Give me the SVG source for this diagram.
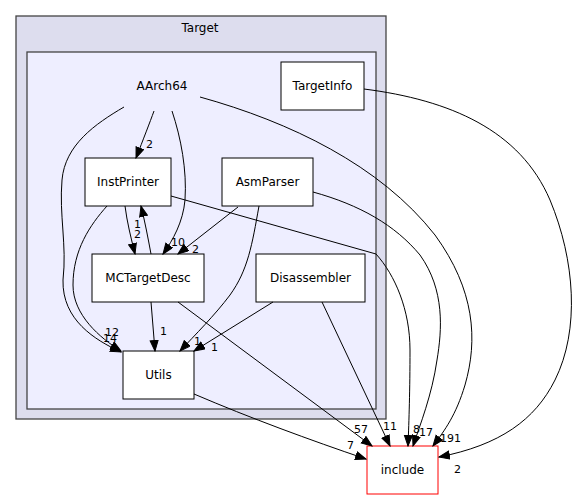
<svg xmlns="http://www.w3.org/2000/svg" width="577" height="500" viewBox="0 0 577 500">
<style>
text{font-family:"DejaVu Sans","Liberation Sans",sans-serif;fill:#000}
.nl{font-size:12px;text-anchor:middle}
.el{font-size:11px}
.node{fill:#fff;stroke:#000;stroke-width:1}
.edge{fill:none;stroke:#000;stroke-width:1}
</style>
<defs>
<marker id="ah" markerUnits="userSpaceOnUse" markerWidth="12" markerHeight="10" refX="11" refY="4.5" orient="auto">
<path d="M0.5,0.5 L11,4.5 L0.5,8.5 z" fill="#000" stroke="#000"/>
</marker>
</defs>
<g id="cluster_Target">
<rect x="16" y="16" width="370" height="403" fill="#ddddee" stroke="#444" stroke-width="1.3"/>
<text x="200" y="32" class="nl">Target</text>
</g>
<g id="cluster_AArch64">
<rect x="27" y="52" width="349" height="357" fill="#eeeeff" stroke="#444" stroke-width="1.3"/>
<text x="162" y="90" class="nl">AArch64</text>
</g>
<g id="node_TargetInfo"><rect class="node" x="281" y="62" width="83" height="48"/><text x="322.5" y="90" class="nl">TargetInfo</text></g>
<g id="node_InstPrinter"><rect class="node" x="85" y="158" width="86" height="48"/><text x="128" y="186" class="nl">InstPrinter</text></g>
<g id="node_AsmParser"><rect class="node" x="222" y="158" width="91" height="48"/><text x="267.5" y="186" class="nl">AsmParser</text></g>
<g id="node_MCTargetDesc"><rect class="node" x="92" y="254" width="112" height="48"/><text x="148" y="282" class="nl">MCTargetDesc</text></g>
<g id="node_Disassembler"><rect class="node" x="256" y="254" width="109" height="48"/><text x="310.5" y="282" class="nl">Disassembler</text></g>
<g id="node_Utils"><rect class="node" x="123" y="351" width="71" height="48"/><text x="158.5" y="379" class="nl">Utils</text></g>
<g id="node_include"><rect x="367" y="446" width="71" height="48" fill="#fff" stroke="#ff0000" stroke-width="1"/><text x="402.5" y="474" class="nl">include</text></g>
<g id="edges">
<path class="edge" marker-end="url(#ah)" d="M154,111 C150,122 143,140 136,158"/>
<text class="el" x="146" y="148">2</text>
<path class="edge" marker-end="url(#ah)" d="M172,111 C181,138 187,170 185,200 C183,222 173,240 163,254"/>
<text class="el" x="171" y="246">10</text>
<path class="edge" marker-end="url(#ah)" d="M124,107 C95,124 65,145 62,180 C59,215 67,245 63,280 C62,320 95,340 121,352"/>
<text class="el" x="103" y="342">14</text>
<path class="edge" marker-end="url(#ah)" d="M107,206 C90,225 73,250 73,285 C73,315 100,338 121,351"/>
<text class="el" x="105" y="336">12</text>
<path class="edge" marker-end="url(#ah)" d="M125,206 C127,222 131,238 135,254"/>
<text class="el" x="134" y="238">2</text>
<path class="edge" marker-end="url(#ah)" d="M151,254 C148,238 145,222 141,206"/>
<text class="el" x="134" y="228">1</text>
<path class="edge" marker-end="url(#ah)" d="M171,196 L376,254 C395,275 410,310 410,350 C410,390 409,420 408,446"/>
<text class="el" x="413" y="433">8</text>
<path class="edge" marker-end="url(#ah)" d="M238,207 L178,254"/>
<text class="el" x="192" y="253">2</text>
<path class="edge" marker-end="url(#ah)" d="M259,206 C252,245 248,270 230,295 C215,315 195,335 180,351"/>
<text class="el" x="194" y="345">1</text>
<path class="edge" marker-end="url(#ah)" d="M313,192 C360,205 395,225 420,255 C445,290 442,330 437,360 C432,395 420,425 413,446"/>
<text class="el" x="419" y="436">17</text>
<path class="edge" marker-end="url(#ah)" d="M200,97 C290,122 380,165 435,235 C475,290 478,340 465,385 C456,415 445,430 433,446"/>
<text class="el" x="440" y="442">191</text>
<path class="edge" marker-end="url(#ah)" d="M364,89 C450,100 520,130 550,200 C575,260 580,330 555,380 C535,420 500,445 439,457"/>
<text class="el" x="454" y="473">2</text>
<path class="edge" marker-end="url(#ah)" d="M273,302 L194,351"/>
<text class="el" x="211" y="351">1</text>
<path class="edge" marker-end="url(#ah)" d="M322,302 L390,446"/>
<text class="el" x="383" y="430">11</text>
<path class="edge" marker-end="url(#ah)" d="M151,302 L155,351"/>
<text class="el" x="160" y="335">1</text>
<path class="edge" marker-end="url(#ah)" d="M178,302 L372,446"/>
<text class="el" x="354" y="433">57</text>
<path class="edge" marker-end="url(#ah)" d="M194,394 C250,418 310,440 366,459"/>
<text class="el" x="347" y="449">7</text>
</g>
</svg>
